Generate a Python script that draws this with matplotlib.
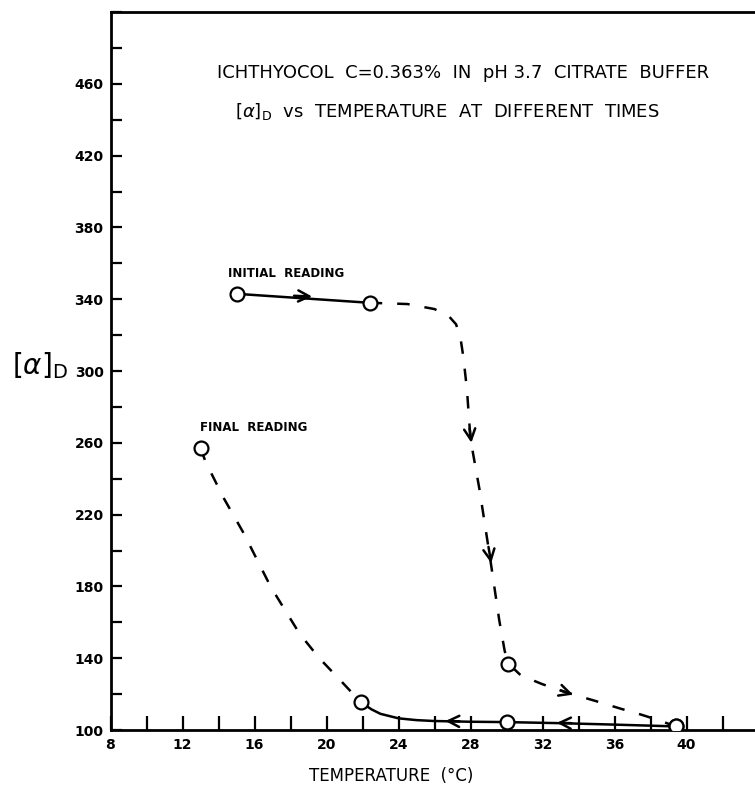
import matplotlib.pyplot as plt
from matplotlib.ticker import MultipleLocator

# Ichthyocol optical rotation vs temperature (pH 3.7 citrate buffer)
initial_temp = [15.0, 22.4, 30.1, 39.4]
initial_rot = [343, 338, 137, 102]
final_temp = [13.0, 21.9, 30.0, 39.4]
final_rot = [257, 115.5, 104.4, 102]

# traced paths between the readings
initial_solid_t = [15.0, 22.4]
initial_solid_r = [343, 338]
initial_dash_t = [22.4, 24.5, 26.0, 26.8, 27.2, 27.45, 27.6, 27.8, 28.0, 28.5, 29.1, 29.6, 29.9, 30.1,
                  30.8, 32.0, 33.5, 35.0, 36.3, 37.5, 38.5, 39.4]
initial_dash_r = [338, 337.3, 334.5, 330.5, 326, 318, 308, 290, 262, 234, 195, 161, 144, 137,
                  130.4, 125.5, 120.4, 116, 112, 108.5, 105.3, 102]
final_dash_t = [13.0, 13.3, 14.3, 15.4, 16.9, 18.5, 19.6, 20.6, 21.3, 21.9]
final_dash_r = [257, 249, 229, 209.6, 179.8, 153.7, 140, 129.5, 122, 115.5]
final_solid_t = [21.9, 22.5, 23.0, 24.0, 25.0, 26.0, 28.0, 30.0, 33.0, 36.0, 39.4]
final_solid_r = [115.5, 111.5, 109.0, 106.5, 105.5, 105.0, 104.6, 104.4, 103.8, 103.0, 102]

# direction arrows: (tail, head)
arrows = [((18.2, 341.9), (19.2, 341.5)),
          ((27.95, 268), (28.05, 260)),
          ((29.0, 202), (29.15, 193)),
          ((33.0, 122), (33.7, 119.7)),
          ((27.4, 104.8), (26.6, 105.0)),
          ((33.6, 103.8), (32.8, 104.0))]

xticks_major = [8, 12, 16, 20, 24, 28, 32, 36, 40]
yticks_major = [100, 140, 180, 220, 260, 300, 340, 380, 420, 460]

W, H = 755, 790
fig = plt.figure(figsize=(W / 100, H / 100), dpi=100)
ax = fig.add_axes([110.5 / W, 60 / H, 1 - 110.5 / W, 718 / H])

lw = 1.8
ax.plot(initial_solid_t, initial_solid_r, color='black', lw=lw, solid_capstyle='round')
ax.plot(initial_dash_t, initial_dash_r, color='black', lw=lw, dashes=(5, 6))
ax.plot(final_dash_t, final_dash_r, color='black', lw=lw, dashes=(5, 6))
ax.plot(final_solid_t, final_solid_r, color='black', lw=lw)

ax.plot(initial_temp, initial_rot, 'o', ms=10, mfc='white', mec='black', mew=1.6, zorder=5)
ax.plot(final_temp, final_rot, 'o', ms=10, mfc='white', mec='black', mew=1.6, zorder=5)

for tail, head in arrows:
    ax.annotate('', xy=head, xytext=tail,
                arrowprops=dict(arrowstyle='->', color='black', lw=1.8,
                                mutation_scale=20, shrinkA=0, shrinkB=0))

ax.text(14.54, 354.5, 'INITIAL  READING', fontsize=8.5, fontweight='bold', va='center')
ax.text(12.97, 268.8, 'FINAL  READING', fontsize=8.5, fontweight='bold', va='center')

ax.set_xlim(8, 8 + (W - 110.5) / 18.0)
ax.set_ylim(100, 500)
ax.set_xticks(xticks_major)
ax.set_yticks(yticks_major)
ax.xaxis.set_minor_locator(MultipleLocator(2))
ax.yaxis.set_minor_locator(MultipleLocator(20))
ax.tick_params(which='both', direction='in', width=1.6, top=False, right=False)
ax.tick_params(axis='x', which='both', length=10, pad=6)
ax.tick_params(axis='y', which='both', length=8, pad=5)
for lab in ax.get_xticklabels() + ax.get_yticklabels():
    lab.set_fontweight('bold')
    lab.set_fontsize(10)

ax.spines['right'].set_visible(False)
for s in ['left', 'bottom', 'top']:
    ax.spines[s].set_linewidth(2.0)

fig.text(216.7 / W, 1 - 73.5 / H, 'ICHTHYOCOL  C=0.363%  IN  pH 3.7  CITRATE  BUFFER',
         fontsize=13, va='center', ha='left')
fig.text(235 / W, 1 - 111 / H, r'$[\alpha]_{\mathrm{D}}$  vs  TEMPERATURE  AT  DIFFERENT  TIMES',
         fontsize=13, va='center', ha='left')
fig.text(391 / W, 1 - 776 / H, 'TEMPERATURE  (°C)', fontsize=12, ha='center', va='center')
fig.text(12 / W, 1 - 366 / H, r'$[\alpha]_{\mathrm{D}}$', fontsize=20, ha='left', va='center')

fig.savefig('out.png', dpi=100)
